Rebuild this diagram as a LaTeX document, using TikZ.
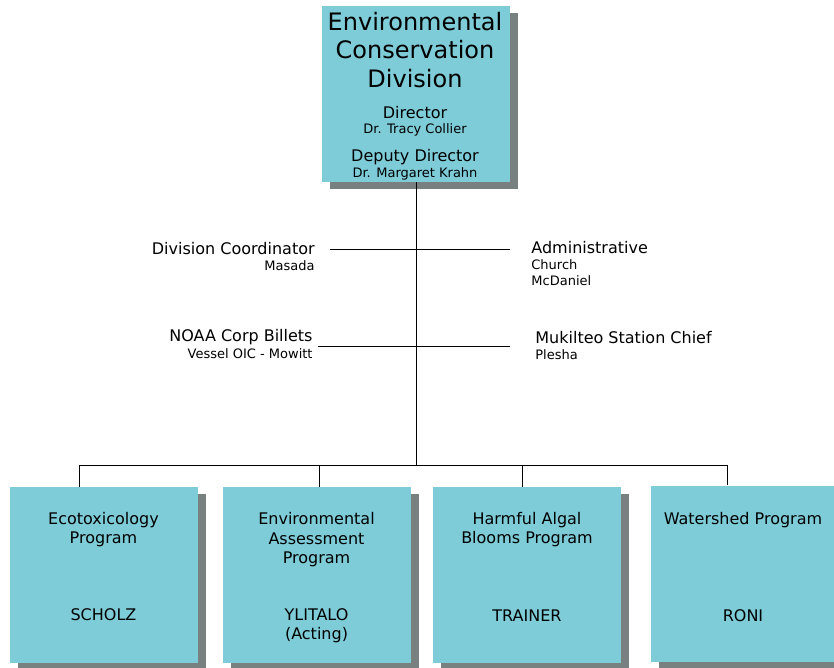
\documentclass[tikz,border=0pt]{standalone}
\usepackage{fontspec}
\setmainfont{DejaVu Sans}
\usetikzlibrary{positioning, shadows}
\definecolor{boxcyan}{RGB}{126,204,216}
\definecolor{shadowgrey}{RGB}{120,128,128}

\begin{document}
\begin{tikzpicture}[x=1pt,y=-1pt,line width=0.8pt,
	unit/.style={rectangle, fill=boxcyan, minimum width=188pt, minimum height=176pt, inner sep=0pt,
		drop shadow={shadow xshift=8pt, shadow yshift=-7pt, fill=shadowgrey, opacity=1}},
	big/.style={font=\fontsize{24}{28.5}\selectfont, align=center, inner sep=0pt},
	mid/.style={font=\fontsize{16}{19.5}\selectfont, align=center, inner sep=0pt},
	small/.style={font=\fontsize{13}{16}\selectfont, align=left, inner sep=0pt}]
	
	\useasboundingbox (0,0) rectangle (834,668);
	
	% division box
	\node (div) [unit] at (416,94) {};
	\node (divname) [big] at (415,50) {Environmental\\Conservation\\Division};
	\node (dir) [mid] at (415,113) {Director};
	\node (dirname) [small] at (415,130) {Dr. Tracy Collier};
	\node (dep) [mid] at (415,157) {Deputy Director};
	\node (depname) [small] at (415,174) {Dr. Margaret Krahn};
	
	% staff
	\node (coord) [mid, anchor=east] at (315,249) {Division Coordinator};
	\node (coordname) [small, anchor=east] at (315,266) {Masada};
	\node (adm) [mid, anchor=west] at (531,248) {Administrative};
	\node (admname) [small, anchor=west] at (531,273) {Church\\McDaniel};
	\node (noaa) [mid, anchor=east] at (313,337) {NOAA Corp Billets};
	\node (noaaname) [small, anchor=east] at (313,354) {Vessel OIC - Mowitt};
	\node (muk) [mid, anchor=west] at (535,338) {Mukilteo Station Chief};
	\node (mukname) [small, anchor=west] at (535,355) {Plesha};
	
	\coordinate (coordend) at (330,249);
	\coordinate (admend) at (510,249);
	\coordinate (noaaend) at (318,346);
	\coordinate (mukend) at (510,346);
	
	% programs
	\node (eco) [unit] at (103.5,575) {};
	\node (ecot) [mid] at (103.5,529.5) {Ecotoxicology\\Program};
	\node (ecoh) [mid] at (103.5,615) {SCHOLZ};
	
	\node (ea) [unit] at (316.5,575) {};
	\node (eat) [mid] at (316.5,540) {Environmental\\Assessment\\Program};
	\node (eah) [mid] at (316.5,625.5) {YLITALO\\(Acting)};
	
	\node (hab) [unit] at (527,575) {};
	\node (habt) [mid] at (527,529.5) {Harmful Algal\\Blooms Program};
	\node (habh) [mid] at (527,616) {TRAINER};
	
	\node (ws) [unit] at (744.5,573.5) {};
	\node (wst) [mid] at (743,520) {Watershed Program};
	\node (wsh) [mid] at (743,616) {RONI};
	
	\coordinate (bus) at (416,465);
	\coordinate (j1) at (79,465);
	\coordinate (j2) at (319,465);
	\coordinate (j3) at (522,465);
	\coordinate (j4) at (727,465);
	
	\draw (div.south) -- (bus);
	\draw (coordend) -- (admend);
	\draw (noaaend) -- (mukend);
	\draw (j1) -- (j4);
	\draw (j1) -- (j1 |- eco.north);
	\draw (j2) -- (j2 |- ea.north);
	\draw (j3) -- (j3 |- hab.north);
	\draw (j4) -- (j4 |- ws.north);
\end{tikzpicture}
\end{document}
